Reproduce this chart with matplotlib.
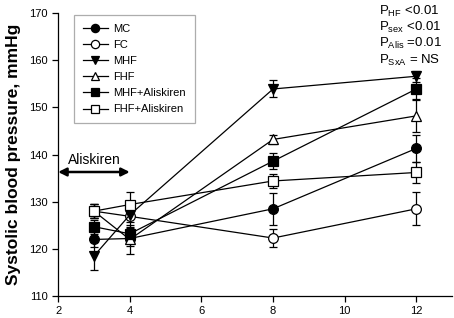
import matplotlib
matplotlib.use("Agg")
import matplotlib.pyplot as plt

plt.rcParams["font.family"] = ["Liberation Sans", "DejaVu Sans"]
plt.rcParams["mathtext.default"] = "regular"

weeks = [3, 4, 8, 12]

groups = ["MC", "FC", "MHF", "FHF", "MHF+Aliskiren", "FHF+Aliskiren"]
sbp = {
    "MC": [122.0, 122.2, 128.5, 141.3],
    "FC": [128.0, 126.9, 122.3, 128.5],
    "MHF": [118.5, 127.2, 153.9, 156.6],
    "FHF": [128.0, 122.0, 143.2, 148.2],
    "MHF+Aliskiren": [124.7, 123.2, 138.6, 153.9],
    "FHF+Aliskiren": [128.0, 129.4, 134.4, 136.2],
}
sem = {
    "MC": [1.5, 1.5, 3.4, 2.8],
    "FC": [1.5, 2.5, 2.0, 3.5],
    "MHF": [3.0, 1.5, 1.8, 1.2],
    "FHF": [1.5, 3.0, 1.0, 3.5],
    "MHF+Aliskiren": [1.5, 1.5, 1.7, 2.3],
    "FHF+Aliskiren": [1.5, 2.6, 1.5, 2.3],
}
markers = {
    "MC": ("o", "black"),
    "FC": ("o", "white"),
    "MHF": ("v", "black"),
    "FHF": ("^", "white"),
    "MHF+Aliskiren": ("s", "black"),
    "FHF+Aliskiren": ("s", "white"),
}
pvals = [
    r"P$_{HF}$ <0.01",
    r"P$_{sex}$ <0.01",
    r"P$_{Alis}$ =0.01",
    r"P$_{SxA}$ = NS",
]

fig = plt.figure(figsize=(4.54, 3.18), dpi=100)
ax = fig.add_axes([0.128, 0.069, 0.868, 0.89])

for g in groups:
    m, fc = markers[g]
    ms = 7.5 if m in "v^" else 7
    ax.errorbar(
        weeks, sbp[g], yerr=sem[g], color="black", lw=0.9, elinewidth=0.9,
        capsize=3, capthick=0.9, marker=m, markersize=ms,
        markerfacecolor=fc, markeredgecolor="black", markeredgewidth=0.9,
        label=g,
    )

# treatment window arrow
ax.annotate(
    "", xy=(2.0, 136.3), xytext=(4.0, 136.3),
    arrowprops=dict(arrowstyle="<|-|>", color="black", lw=1.8,
                    mutation_scale=12, shrinkA=0, shrinkB=0),
    annotation_clip=False,
)
ax.text(3.0, 137.3, "Aliskiren", ha="center", va="bottom", fontsize=10)

for i, s in enumerate(pvals):
    fig.text(0.835, 0.988 - i * 0.051, s, ha="left", va="top", fontsize=9.5)

ax.set_xlim(2, 13)
ax.set_ylim(110, 170)
ax.set_xticks([2, 4, 6, 8, 10, 12])
ax.set_yticks(range(110, 171, 10))
ax.tick_params(labelsize=8, length=4, width=0.9, direction="out")
ax.set_ylabel("Systolic blood pressure, mmHg", fontsize=12.5,
              fontweight="bold", labelpad=6)
for side in ("top", "right"):
    ax.spines[side].set_visible(False)
for side in ("left", "bottom"):
    ax.spines[side].set_linewidth(0.9)

handles, labels = ax.get_legend_handles_labels()
handles = [h[0] for h in handles]
leg = ax.legend(
    handles, labels, loc="upper left", bbox_to_anchor=(0.041, 0.993),
    borderaxespad=0, fontsize=8, frameon=True, fancybox=False,
    handlelength=2.2, labelspacing=0.55, borderpad=0.8, handletextpad=0.5,
    markerscale=0.85,
)
leg.get_frame().set_edgecolor("#999999")
leg.get_frame().set_linewidth(0.9)

fig.savefig("out.png", dpi=100)
